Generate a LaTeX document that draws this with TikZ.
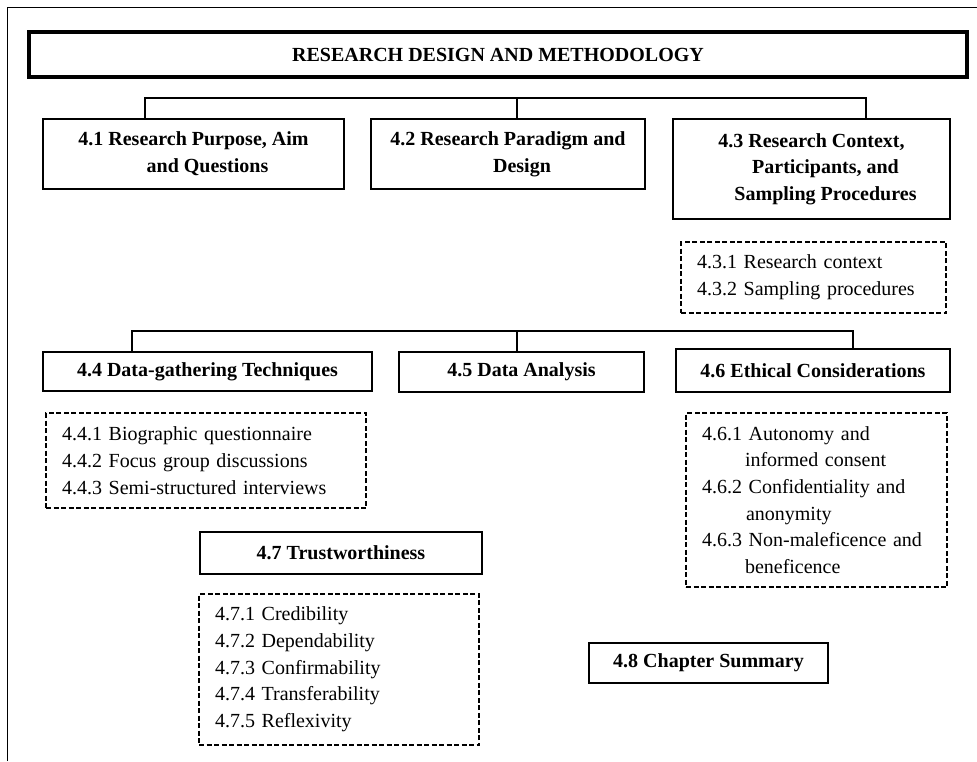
\documentclass[tikz,border=0pt]{standalone}
\usepackage{fontspec}
\setmainfont{Liberation Serif}
\begin{document}
\begin{tikzpicture}[x=1pt,y=-1pt,
  every node/.style={font=\fontsize{20}{26.7}\selectfont, inner sep=0pt},
  hbox/.style={draw, line width=2pt, align=center, font=\fontsize{20}{26.7}\selectfont\bfseries},
  titlebox/.style={draw, line width=3.5pt, align=center, font=\fontsize{20}{26.7}\selectfont\bfseries},
  lbox/.style={draw, dashed, dash pattern=on 5pt off 2.5pt, line width=1.5pt, align=left, inner xsep=16pt, inner ysep=0pt},
  conn/.style={line width=1.6pt},
  frame/.style={line width=1.8pt}]
\useasboundingbox (0,0) rectangle (977,761);
% outer frame
\coordinate (fBL) at (7.5,761);
\coordinate (fTL) at (7.5,7.5);
\coordinate (fTR) at (977,7.5);
\draw[frame] (fBL) -- (fTL) -- (fTR);
% title
\node[titlebox, minimum width=938, minimum height=45] (title) at (498,54.5) {RESEARCH DESIGN AND METHODOLOGY};
% first row
\node[hbox, minimum width=301, minimum height=70] (b41) at (193.5,154) {4.1 Research Purpose, Aim\\ \hspace*{28pt}and Questions};
\node[hbox, minimum width=274, minimum height=70] (b42) at (508,154) {4.2 Research Paradigm and\\ \hspace*{28pt}Design};
\node[hbox, minimum width=277, minimum height=100] (b43) at (811.5,169) {4.3 Research Context,\\ \hspace*{28pt}Participants, and\\ \hspace*{28pt}Sampling Procedures};
\node[lbox, minimum width=265, minimum height=71, text width=233] (l43) at (813.5,277.5) {4.3.1 Research context\\4.3.2 Sampling procedures};
% bus 1
\coordinate (busA1) at (145,98);
\coordinate (busA2) at (517,98);
\coordinate (busA3) at (866,98);
\draw[conn] (busA1 |- b41.north) -- (busA1) -- (busA3) -- (busA3 |- b43.north);
\draw[conn] (busA2) -- (busA2 |- b42.north);
% second row
\node[hbox, minimum width=329, minimum height=39] (b44) at (207.5,371.5) {4.4 Data-gathering Techniques};
\node[hbox, minimum width=245, minimum height=40] (b45) at (521.5,372) {4.5 Data Analysis};
\node[hbox, minimum width=274, minimum height=43] (b46) at (813,370.5) {4.6 Ethical Considerations};
% bus 2
\coordinate (busB1) at (132,331);
\coordinate (busB2) at (517,331);
\coordinate (busB3) at (853,331);
\draw[conn] (busB1 |- b44.north) -- (busB1) -- (busB3) -- (busB3 |- b46.north);
\draw[conn] (busB2) -- (busB2 |- b45.north);
% lists
\node[lbox, minimum width=320, minimum height=95, text width=288] (l44) at (206,460.5) {4.4.1 Biographic questionnaire\\4.4.2 Focus group discussions\\4.4.3 Semi-structured interviews};
\node[lbox, minimum width=261, minimum height=174, text width=229] (l46) at (816.5,500) {4.6.1 Autonomy and\\\hspace*{43pt}informed consent\\4.6.2 Confidentiality and\\\hspace*{44pt}anonymity\\4.6.3 Non-maleficence and\\\hspace*{43pt}beneficence};
% trustworthiness
\node[hbox, minimum width=282, minimum height=42] (b47) at (341,553) {4.7 Trustworthiness};
\node[lbox, minimum width=280, minimum height=151, text width=248] (l47) at (339,669.5) {4.7.1 Credibility\\4.7.2 Dependability\\4.7.3 Confirmability\\4.7.4 Transferability\\4.7.5 Reflexivity};
% summary
\node[hbox, minimum width=239, minimum height=40] (b48) at (708.5,663) {4.8 Chapter Summary};
\end{tikzpicture}
\end{document}
